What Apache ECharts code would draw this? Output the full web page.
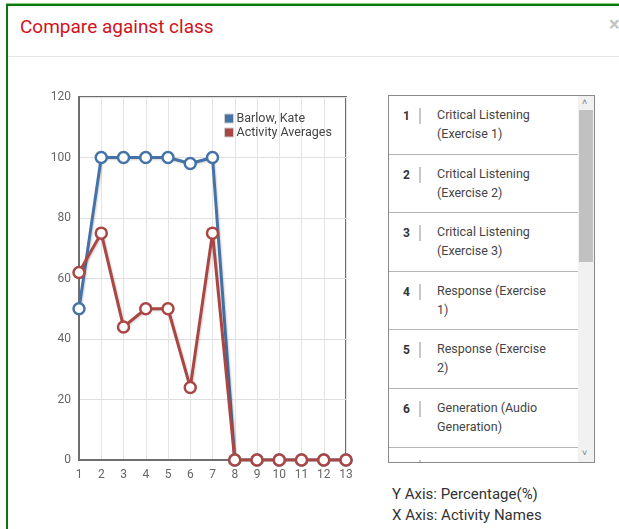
<!DOCTYPE html>
<html>
<head>
<meta charset="utf-8">
<script src="https://cdn.jsdelivr.net/npm/echarts@6/dist/echarts.min.js"></script>
<style>
  html, body { margin: 0; padding: 0; background: #fff; width: 619px; height: 529px; overflow: hidden; font-family: Roboto, "Open Sans", sans-serif; }
  .modal { position: absolute; left: 6px; top: 4px; width: 700px; height: 600px; border-left: 2px solid #0b760b; border-top: 2px solid #0b760b; box-shadow: 0 -1px 0 #8fc78f; background: #fff; }
  .title { position: absolute; left: 20px; top: 15px; font-size: 19px; color: #d0121b; font-family: Roboto, sans-serif; }
  .close { position: absolute; left: 609px; top: 12px; font-size: 20px; font-weight: bold; color: #c4c4c4; }
  .hdr-line { position: absolute; left: 8px; top: 56px; width: 620px; height: 1px; background: #e5e5e5; }
  #chart { position: absolute; left: 30px; top: 80px; width: 340px; height: 410px; }
  .list { position: absolute; left: 388px; top: 95px; width: 205px; height: 366px; border: 1px solid #8a8a8a; overflow: hidden; background: #fff; }
  .rows { position: absolute; left: 0; top: 0; width: 189px; }
  .row { position: relative; height: 57.6px; border-bottom: 1px solid #b5b5b5; }
  .num { position: absolute; left: 14px; top: 13px; font-size: 12px; font-weight: bold; color: #333; }
  .bar { position: absolute; left: 30px; top: 12px; width: 1.5px; height: 16px; background: #c8c8c8; }
  .txt { position: absolute; left: 48px; top: 9px; width: 116px; font-size: 12.5px; line-height: 19px; color: #444; }
  .track { position: absolute; left: 189px; top: 0; width: 16px; height: 366px; background: #f1f1f1; }
  .thumb { position: absolute; left: 1px; top: 14px; width: 14px; height: 152px; background: #c1c1c1; }
  .arr { position: absolute; left: 4px; font-size: 9px; color: #777; }
  .notes { position: absolute; left: 392px; top: 484px; font-size: 15px; line-height: 21px; color: #333; }
</style>
</head>
<body>
<div class="modal"></div>
<div class="title">Compare against class</div>
<div class="close">×</div>
<div class="hdr-line"></div>
<div id="chart"></div>
<div class="list">
  <div class="rows" id="rows"></div>
  <div class="track">
    <div class="arr" style="top:1px;">&#708;</div>
    <div class="thumb"></div>
    <div class="arr" style="top:352px;">&#709;</div>
  </div>
</div>
<div class="notes">Y Axis: Percentage(%)<br>X Axis: Activity Names</div>
<script>
// Activity numbers along the x axis
var activities = ['1', '2', '3', '4', '5', '6', '7', '8', '9', '10', '11', '12', '13'];
// Student scores (%) per activity
var studentScores = [50, 100, 100, 100, 100, 98, 100, 0, 0, 0, 0, 0, 0];
// Class averages (%) per activity
var classAverages = [62, 75, 44, 50, 50, 24, 75, 0, 0, 0, 0, 0, 0];
// Y axis ticks
var yTicks = [0, 20, 40, 60, 80, 100, 120];
// Activity names listed in the side panel
var activityNames = [
  'Critical Listening (Exercise 1)',
  'Critical Listening (Exercise 2)',
  'Critical Listening (Exercise 3)',
  'Response (Exercise 1)',
  'Response (Exercise 2)',
  'Generation (Audio Generation)',
  ''
];

// Side panel rows
var rowsEl = document.getElementById('rows');
activityNames.forEach(function (name, i) {
  var row = document.createElement('div');
  row.className = 'row';
  row.innerHTML = '<div class="num">' + (i + 1) + '</div><div class="bar"></div><div class="txt">' + name + '</div>';
  rowsEl.appendChild(row);
});

var chart = echarts.init(document.getElementById('chart'), null, { renderer: 'canvas' });

function lineSeries(name, color, values, z) {
  return {
    name: name,
    type: 'line',
    data: values,
    z: z,
    symbol: 'circle',
    symbolSize: 11,
    showSymbol: true,
    itemStyle: { color: '#fff', borderColor: color, borderWidth: 2.5 },
    lineStyle: { color: color, width: 3, shadowColor: 'rgba(0,0,0,0.18)', shadowBlur: 2, shadowOffsetX: 1, shadowOffsetY: 1 },
    emphasis: { disabled: true },
    animation: false
  };
}

chart.setOption({
  animation: false,
  grid: {
    left: 49, top: 17, width: 267, height: 363,
    show: true, borderColor: '#6e6e6e', borderWidth: 2, backgroundColor: 'transparent'
  },
  legend: {
    orient: 'vertical',
    left: 194, top: 32,
    itemWidth: 9, itemHeight: 9, itemGap: 1,
    icon: 'rect',
    padding: 0,
    textStyle: { fontSize: 12.5, color: '#444', fontFamily: 'Roboto, sans-serif', padding: [0, 0, 0, -2] },
    itemStyle: { borderColor: '#cfcfcf', borderWidth: 1 },
    data: [
      { name: 'Barlow, Kate', itemStyle: { color: '#4572A7' } },
      { name: 'Activity Averages', itemStyle: { color: '#AA4643' } }
    ]
  },
  xAxis: {
    type: 'category',
    data: activities,
    boundaryGap: false,
    axisLine: { show: true, lineStyle: { color: '#6e6e6e', width: 2 } },
    axisTick: { show: false },
    axisLabel: { color: '#666', fontSize: 12, margin: 9, fontFamily: 'Roboto, sans-serif', interval: 0 },
    splitLine: { show: true, lineStyle: { color: '#e4e4e4', width: 1 } }
  },
  yAxis: {
    type: 'value',
    min: yTicks[0], max: yTicks[yTicks.length - 1], interval: 20,
    axisLine: { show: true, lineStyle: { color: '#6e6e6e', width: 2 } },
    axisTick: { show: false },
    axisLabel: { color: '#666', fontSize: 12, margin: 8, fontFamily: 'Roboto, sans-serif' },
    splitLine: { show: true, lineStyle: { color: '#dedede', width: 1 } }
  },
  series: [
    lineSeries('Barlow, Kate', '#4572A7', studentScores, 2),
    lineSeries('Activity Averages', '#AA4643', classAverages, 3)
  ]
});
</script>
</body>
</html>
